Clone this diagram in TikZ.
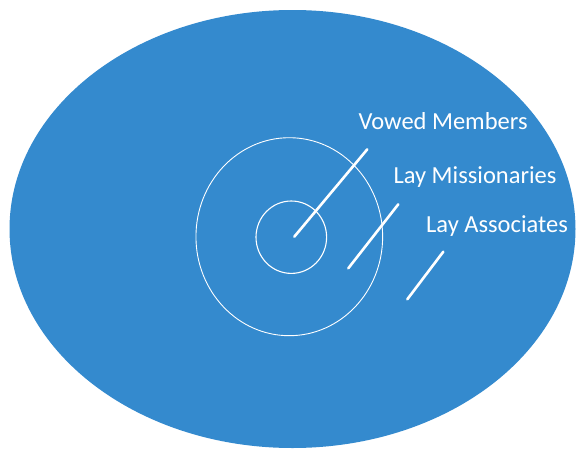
\documentclass[tikz,border=0pt]{standalone}
\usepackage{fontspec}
\setmainfont{Carlito}
\usepackage{tikz}
\usetikzlibrary{shapes,positioning,calc}
\definecolor{ringblue}{RGB}{52,138,206}

\begin{document}
\begin{tikzpicture}[x=1pt, y=-1pt,
    ring/.style={ellipse, draw=white, inner sep=0pt},
    tag/.style={text=white, inner sep=0pt, anchor=base west, font=\fontsize{24.5}{29}\selectfont},
    pointer/.style={white, line width=2.6pt, line cap=round}]
    \useasboundingbox (0,0) rectangle (576,450);

    % Outer field
    \node[ellipse, fill=ringblue, inner sep=0pt, minimum width=566pt, minimum height=438pt] (field) at (292.5,229) {};

    % Rings
    \node[ring, line width=0.9pt, minimum width=186.7pt, minimum height=198pt] (middle) at (289.3,236.7) {};
    \node[ring, line width=1.1pt, minimum width=70.6pt, minimum height=72.4pt] (core) at (291.3,237.2) {};

    % Labels
    \node[tag] (vowed) at (358.3,129) {Vowed Members};
    \node[tag] (laymiss) at (393.3,183.3) {Lay Missionaries};
    \node[tag] (layassoc) at (426,232.7) {Lay Associates};

    % Pointers
    \coordinate (p1a) at (294.3,236.7);
    \coordinate (p1b) at (367.3,149.3);
    \coordinate (p2a) at (348.3,268.3);
    \coordinate (p2b) at (398.3,204.3);
    \coordinate (p3a) at (407.3,299.3);
    \coordinate (p3b) at (443.3,251.7);
    \draw[pointer] (p1a) -- (p1b);
    \draw[pointer] (p2a) -- (p2b);
    \draw[pointer] (p3a) -- (p3b);
\end{tikzpicture}
\end{document}
